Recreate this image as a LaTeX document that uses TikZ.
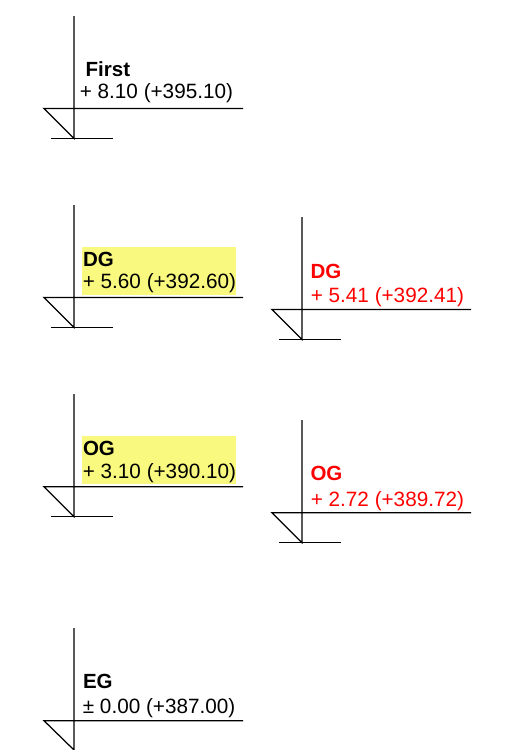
\documentclass[tikz,border=0pt]{standalone}
\usepackage{fontspec}
\setmainfont{Liberation Sans}
\definecolor{levelyellow}{HTML}{F9F97F}
\tikzset{Level/.style = {
		x=1pt, y=1pt,
		every node/.style = {anchor=base west, inner sep=0pt, font=\fontsize{20.7}{24}\selectfont},
		mark line/.style = {line width=1.25pt},
		name text/.style = {font=\fontsize{20.5}{24}\selectfont\bfseries},
		highlight/.style = {anchor=south west, fill=levelyellow, minimum width=154pt, minimum height=48pt},
		planned/.style = {text=red},
	}% end of Level style
}
\begin{document}
\begin{tikzpicture}[Level]
  \useasboundingbox (0,0) rectangle (508,-750);

  \begin{scope}[xshift=74pt,yshift=-108.5pt]
   \node[name text] (Fname) at (11.5,31.8) {First};
   \node (Flevel) at (5.7,9.8) {+ 8.10 (+395.10)};
   \coordinate (Ftop) at (0,92.5);
   \coordinate (Ftip) at (0,-30);
   \coordinate (Fl) at (-30,0);
   \coordinate (Fr) at (169,0);
   \coordinate (Fbl) at (-23,-30);
   \coordinate (Fbr) at (39,-30);
   \draw[mark line] (Ftop) -- (Ftip) -- (Fl) -- (Fr);
   \draw[mark line] (Fbl) -- (Fbr);
  \end{scope}

  \begin{scope}[xshift=74pt,yshift=-297.5pt]
   \node[highlight] (Dbox) at (8,2.5) {};
   \node[name text] (Dname) at (8.8,31.5) {DG};
   \node (Dlevel) at (8.7,9.2) {+ 5.60 (+392.60)};
   \coordinate (Dtop) at (0,92.5);
   \coordinate (Dtip) at (0,-30);
   \coordinate (Dl) at (-30,0);
   \coordinate (Dr) at (169,0);
   \coordinate (Dbl) at (-23,-30);
   \coordinate (Dbr) at (39,-30);
   \draw[mark line] (Dtop) -- (Dtip) -- (Dl) -- (Dr);
   \draw[mark line] (Dbl) -- (Dbr);
  \end{scope}

  \begin{scope}[xshift=302pt,yshift=-309.5pt]
   \node[name text,planned] (DRname) at (8.3,31.2) {DG};
   \node[planned] (DRlevel) at (8.7,7.5) {+ 5.41 (+392.41)};
   \coordinate (DRtop) at (0,92.5);
   \coordinate (DRtip) at (0,-30);
   \coordinate (DRl) at (-30,0);
   \coordinate (DRr) at (169,0);
   \coordinate (DRbl) at (-23,-30);
   \coordinate (DRbr) at (39,-30);
   \draw[mark line] (DRtop) -- (DRtip) -- (DRl) -- (DRr);
   \draw[mark line] (DRbl) -- (DRbr);
  \end{scope}

  \begin{scope}[xshift=74pt,yshift=-486.7pt]
   \node[highlight] (Obox) at (8,2.7) {};
   \node[name text] (Oname) at (8.8,31.7) {OG};
   \node (Olevel) at (8.7,8.4) {+ 3.10 (+390.10)};
   \coordinate (Otop) at (0,92.5);
   \coordinate (Otip) at (0,-30);
   \coordinate (Ol) at (-30,0);
   \coordinate (Or) at (169,0);
   \coordinate (Obl) at (-23,-30);
   \coordinate (Obr) at (39,-30);
   \draw[mark line] (Otop) -- (Otip) -- (Ol) -- (Or);
   \draw[mark line] (Obl) -- (Obr);
  \end{scope}

  \begin{scope}[xshift=302pt,yshift=-512.7pt]
   \node[name text,planned] (ORname) at (8.3,32) {OG};
   \node[planned] (ORlevel) at (8.7,6.7) {+ 2.72 (+389.72)};
   \coordinate (ORtop) at (0,92.5);
   \coordinate (ORtip) at (0,-30);
   \coordinate (ORl) at (-30,0);
   \coordinate (ORr) at (169,0);
   \coordinate (ORbl) at (-23,-30);
   \coordinate (ORbr) at (39,-30);
   \draw[mark line] (ORtop) -- (ORtip) -- (ORl) -- (ORr);
   \draw[mark line] (ORbl) -- (ORbr);
  \end{scope}

  \begin{scope}[xshift=74pt,yshift=-720.7pt]
   \node[name text] (Ename) at (8.8,32.4) {EG};
   \node (Elevel) at (8.7,7.4) {± 0.00 (+387.00)};
   \coordinate (Etop) at (0,92.5);
   \coordinate (Etip) at (0,-29.3);
   \coordinate (El) at (-30,0);
   \coordinate (Er) at (169,0);
   \draw[mark line] (Etop) -- (Etip) -- (El) -- (Er);
  \end{scope}
\end{tikzpicture}
\end{document}
